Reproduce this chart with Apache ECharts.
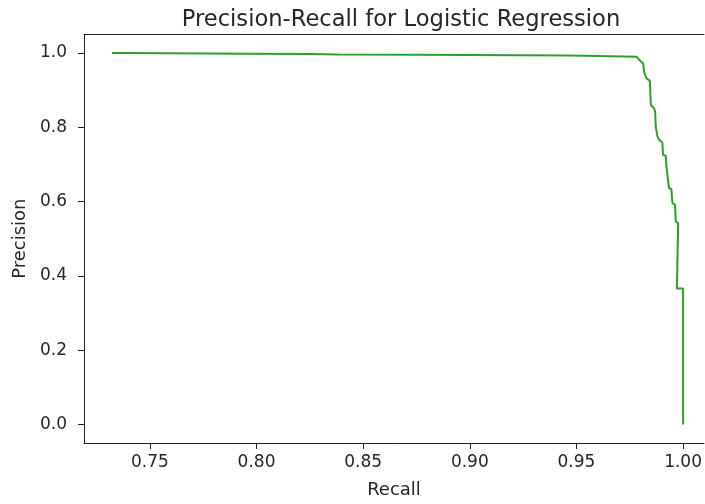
<!DOCTYPE html>
<html>
<head>
<meta charset="utf-8">
<script src="https://cdn.jsdelivr.net/npm/echarts@6/dist/echarts.min.js"></script>
<style>
html,body{margin:0;padding:0;background:#fff;}
#chart{width:705px;height:504px;}
</style>
</head>
<body>
<div id="chart"></div>
<script>
const titleText = "Precision-Recall for Logistic Regression";
const xName = "Recall";
const yName = "Precision";
const xTicks = [0.75, 0.80, 0.85, 0.90, 0.95, 1.00];
const yTicks = [0.0, 0.2, 0.4, 0.6, 0.8, 1.0];
const recall = [
  0.7322, 0.7390, 0.7395, 0.7950, 0.7955, 0.8260, 0.8265, 0.8380, 0.8385, 0.8750,
  0.8755, 0.9470, 0.9475, 0.9781, 0.9802, 0.9813, 0.9817, 0.9828, 0.9844, 0.9849,
  0.9864, 0.9869, 0.9872, 0.9880, 0.9880, 0.9888, 0.9903, 0.9906, 0.9919, 0.9922,
  0.9931, 0.9934, 0.9945, 0.9950, 0.9962, 0.9966, 0.9977, 0.9971, 1.0000, 1.0000
];
const precision = [
  1.000, 1.000, 0.998, 0.998, 0.997, 0.997, 0.996, 0.996, 0.995, 0.995,
  0.994, 0.993, 0.992, 0.990, 0.977, 0.972, 0.950, 0.932, 0.925, 0.860,
  0.851, 0.842, 0.802, 0.798, 0.775, 0.766, 0.759, 0.726, 0.723, 0.694,
  0.693, 0.636, 0.634, 0.596, 0.591, 0.546, 0.542, 0.366, 0.366, 0.000
];

const chart = echarts.init(document.getElementById('chart'), null, {renderer: 'canvas'});
const font = 'DejaVu Sans';
const txt = '#262626';
const spine = '#222';
const xMin = 0.7191, xMax = 1.0098;
chart.setOption({
  animation: false,
  backgroundColor: '#ffffff',
  title: {
    text: titleText,
    left: 396,
    top: 4,
    textAlign: 'center',
    textStyle: {fontFamily: font, fontSize: 22.6, fontWeight: 'normal', color: txt}
  },
  grid: {left: 84, top: 34.4, right: 0, bottom: 60.4, show: false},
  xAxis: [{
    type: 'value',
    min: xMin, max: xMax,
    name: xName, nameLocation: 'middle', nameGap: 38,
    nameTextStyle: {fontFamily: font, fontSize: 18, color: txt},
    axisLine: {show: true, onZero: false, lineStyle: {color: spine, width: 1}},
    axisTick: {show: true, customValues: xTicks, length: 6, lineStyle: {color: spine}},
    axisLabel: {
      customValues: xTicks, fontFamily: font, fontSize: 17, color: txt, margin: 11,
      formatter: v => v.toFixed(2)
    },
    splitLine: {show: false}
  }, {
    type: 'value', position: 'top',
    min: xMin, max: xMax,
    axisLine: {show: true, onZero: false, lineStyle: {color: spine, width: 1}},
    axisTick: {show: false}, axisLabel: {show: false}, splitLine: {show: false}
  }],
  yAxis: {
    type: 'value',
    min: -0.05, max: 1.05,
    name: yName, nameLocation: 'middle', nameGap: 54,
    nameTextStyle: {fontFamily: font, fontSize: 18, color: txt},
    axisLine: {show: true, onZero: false, lineStyle: {color: spine, width: 1}},
    axisTick: {show: true, customValues: yTicks, length: 6, lineStyle: {color: spine}},
    axisLabel: {
      customValues: yTicks, fontFamily: font, fontSize: 17, color: txt, margin: 17,
      formatter: v => v.toFixed(1)
    },
    splitLine: {show: false}
  },
  series: [{
    type: 'line',
    xAxisIndex: 0,
    data: recall.map((r, i) => [r, precision[i]]),
    showSymbol: false,
    symbol: 'none',
    clip: true,
    lineStyle: {color: '#2ca02c', width: 2},
    itemStyle: {color: '#2ca02c'}
  }]
});
</script>
</body>
</html>
